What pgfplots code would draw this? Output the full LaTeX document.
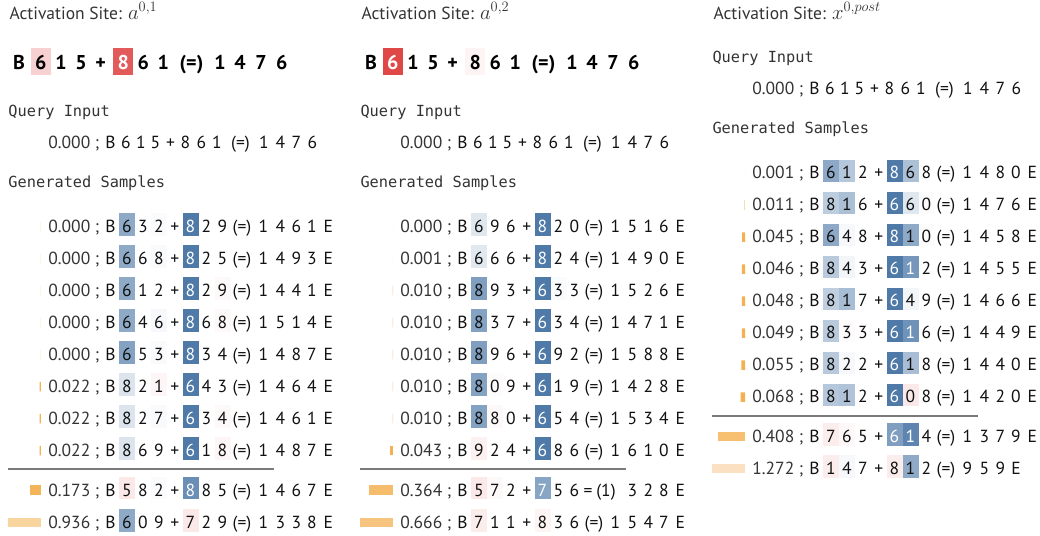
\documentclass[border=0pt]{standalone}
\usepackage{pgfplots}
\usepackage{pgfplotstable}
\pgfplotsset{compat=1.18}
\usepackage{fontspec}
\setmainfont{PT Sans}
\newfontfamily\monof{DejaVu Sans Mono}
\definecolor{txt}{HTML}{333333}
\definecolor{tok}{HTML}{111111}
\definecolor{sepc}{HTML}{7A7A7A}
\definecolor{barO}{HTML}{F5B04F}
\definecolor{barA}{HTML}{F4B458}
\definecolor{barB}{HTML}{F5BD6B}
\definecolor{barC}{HTML}{F6C070}
\definecolor{barD}{HTML}{F6C47F}
\definecolor{barE}{HTML}{F8D49E}
\definecolor{barF}{HTML}{FBE0C1}
\definecolor{barP}{HTML}{F9E3C0}
\definecolor{barQ}{HTML}{F8DCB2}
\definecolor{barZ}{HTML}{FDF3E6}

\pgfdeclareplotmark{cell}{\pgfpathrectangle{\pgfqpoint{-8pt}{-11.35pt}}{\pgfqpoint{16pt}{22.7pt}}\pgfusepathqfill}
\pgfdeclareplotmark{bigcell}{\pgfpathrectangle{\pgfqpoint{-10pt}{-13.65pt}}{\pgfqpoint{20pt}{27.3pt}}\pgfusepathqfill}

\newcommand\tokfont{\fontsize{17.5}{20}\selectfont}
\newcommand\bigfont{\bfseries\fontsize{20}{24}\selectfont}
\newcommand\monofont{\monof\fontsize{15.3}{18}\selectfont}
\newcommand\W[1]{\textcolor{white}{#1}}
\def\slots{{110.5,127,143,159,174.8,190.5,206.5,222.5,242,263.5,280.3,296.3,312,328.3}}
\def\qslots{{110.5,125.8,140.8,155.5,170.5,185.5,201.5,217,240.5,264,280.5,296.5,312.5}}
\def\bigslots{{19,40.7,61,81,100.7,123.3,143.3,163.3,191.5,220,240,261,281.7}}

\newcommand\srow[4]{%
  \node[anchor=base east, text=txt, font=\tokfont, inner sep=0pt] at ({#1+90.5},{#2+6}) {#3};
  \node[anchor=base, text=txt, font=\tokfont, inner sep=0pt] at ({#1+97},{#2+6}) {;};
  \foreach \tk [count=\i from 0] in {#4} {
    \pgfmathsetmacro\xx{#1+\slots[\i]}
    \node[anchor=base, text=tok, font=\tokfont, inner sep=0pt] at (\xx,{#2+6}) {\tk};
  }
}
\newcommand\qrow[2]{%
  \node[anchor=base east, text=txt, font=\tokfont, inner sep=0pt] at ({#1+90.5},{#2+6}) {0.000};
  \node[anchor=base, text=txt, font=\tokfont, inner sep=0pt] at ({#1+97},{#2+6}) {;};
  \foreach \tk [count=\i from 0] in {B,6,1,5,+,8,6,1,(=),1,4,7,6} {
    \pgfmathsetmacro\xx{#1+\qslots[\i]}
    \node[anchor=base, text=tok, font=\tokfont, inner sep=0pt] at (\xx,{#2+6}) {\tk};
  }
}
\newcommand\bigline[2]{%
  \foreach \tk [count=\i from 0] in {#2} {
    \pgfmathsetmacro\xx{#1+\bigslots[\i]}
    \node[anchor=base, text=black, font=\bigfont, inner sep=0pt] at (\xx,70) {\tk};
  }
}
\newcommand\header[3]{%
  \node[anchor=base west, text=txt, font=\tokfont, inner sep=0pt] at ({#1+9.3},19.5) {Activation Site: {\fontsize{20.5}{24}\selectfont$#3$}};
  \node[anchor=base west, text=txt, font=\monofont, inner sep=0pt] at ({#1+8.3},{116.5-#2}) {Query Input};
  \qrow{#1}{142.5-#2}
  \node[anchor=base west, text=txt, font=\monofont, inner sep=0pt] at ({#1+8.3},{187.5-#2}) {Generated Samples};
}

% attribution cells: x (slot centre, panel-local), y (row centre, panel 1 rows), v (signed attribution)
\pgfplotstableread{
x y v
127 226.7 0.64
159 226.7 0.03
190.5 226.7 1.0
127 258.7 0.64
159 258.7 0.04
190.5 258.7 1.0
127 290.7 0.64
190.5 290.7 1.0
222.5 290.7 -0.03
127 322.7 0.64
159 322.7 0.05
190.5 322.7 1.0
222.5 322.7 -0.03
127 354.7 0.70
159 354.7 0.04
190.5 354.7 1.0
127 386.7 0.20
159 386.7 -0.05
190.5 386.7 1.0
127 418.7 0.20
159 418.7 0.04
190.5 418.7 1.0
222.5 418.7 -0.03
127 450.7 0.20
190.5 450.7 1.0
222.5 450.7 -0.05
127 490 -0.12
159 490 0.03
190.5 490 0.85
127 522.3 0.64
190.5 522.3 -0.12
}\cellsA
\pgfplotstableread{
x y v
127 226.7 0.18
190.5 226.7 1.0
127 258.7 0.17
190.5 258.7 1.0
127 290.7 0.72
190.5 290.7 1.0
206.5 290.7 0.03
127 322.7 0.70
190.5 322.7 1.0
127 354.7 0.72
190.5 354.7 1.0
127 386.7 0.70
143 386.7 -0.02
190.5 386.7 1.0
127 418.7 0.70
143 418.7 -0.03
190.5 418.7 1.0
127 450.7 -0.08
190.5 450.7 1.0
127 490 -0.12
143 490 -0.03
190.5 490 0.68
127 522.3 -0.10
190.5 522.3 -0.06
}\cellsB
\pgfplotstableread{
x y v
127 226.7 0.65
143 226.7 0.42
190.5 226.7 1.0
206.5 226.7 0.47
127 258.7 0.38
143 258.7 0.48
190.5 258.7 1.0
206.5 258.7 0.18
222.5 258.7 0.02
127 290.7 0.65
143 290.7 0.05
190.5 290.7 1.0
206.5 290.7 0.64
222.5 290.7 0.02
127 322.7 0.40
143 322.7 0.07
190.5 322.7 1.0
206.5 322.7 0.78
127 354.7 0.36
143 354.7 0.50
190.5 354.7 1.0
206.5 354.7 0.07
127 386.7 0.40
143 386.7 -0.02
190.5 386.7 1.0
206.5 386.7 0.82
127 418.7 0.41
143 418.7 0.05
190.5 418.7 1.0
206.5 418.7 0.49
127 450.7 0.42
143 450.7 0.45
190.5 450.7 1.0
206.5 450.7 -0.12
127 490 -0.10
143 490 -0.04
190.5 490 0.73
206.5 490 0.92
127 522.3 -0.10
143 522.3 0.05
190.5 522.3 -0.10
206.5 522.3 0.64
}\cellsC
\pgfplotstableread{
x y v
40.7 61.3 -0.25
123.3 61.3 -0.90
392.7 61.3 -1.0
475.3 61.3 -0.06
}\bigcells

\pgfplotsset{
  cellplot/.style={scatter, only marks, point meta=explicit,
    scatter/use mapped color={draw=none, fill=mapped color}},
  ob/.style={xbar, bar width=9.5pt, draw=none, fill=#1},
  baraxis/.style={anchor=south west, x=66pt, y=1pt, xmin=0, xmax=0.5,
    ymin=0, ymax=535, y dir=reverse, x dir=reverse, hide axis, enlargelimits=false},
}

\begin{document}
\begin{tikzpicture}
\begin{axis}[at={(0pt,0pt)}, anchor=south west, x=1pt, y=1pt,
  xmin=0, xmax=1040, ymin=0, ymax=535, y dir=reverse, hide axis,
  clip=false, enlargelimits=false,
  colormap={attr}{rgb255=(224,72,72) rgb255=(255,255,255) rgb255=(79,122,168)},
  point meta min=-1, point meta max=1]
\addplot[cellplot, mark=cell] table[x expr=\thisrow{x}, y expr=\thisrow{y}-2, meta=v] {\cellsA};
\addplot[cellplot, mark=cell] table[x expr=\thisrow{x}+352, y expr=\thisrow{y}-2, meta=v] {\cellsB};
\addplot[cellplot, mark=cell] table[x expr=\thisrow{x}+704, y expr=\thisrow{y}-55.7, meta=v] {\cellsC};
\addplot[cellplot, mark=bigcell] table[x=x, y=y, meta=v] {\bigcells};
\addplot[draw=sepc, line width=2pt] coordinates {(8.3,469.3) (274,469.3)};
\addplot[draw=sepc, line width=2pt] coordinates {(360.3,469.3) (626,469.3)};
\addplot[draw=sepc, line width=2pt] coordinates {(712.3,415.6) (978,415.6)};
\end{axis}

% orange bars (capped at 0.5 by the clip of each small axis)
\begin{axis}[baraxis, at={(8pt,0pt)}]
\addplot[ob=barO] coordinates {(0,226.7) (0,258.7) (0,290.7) (0,322.7) (0,354.7)};
\addplot[ob=barO] coordinates {(0.022,386.7) (0.022,418.7) (0.022,450.7)};
\addplot[ob=barA] coordinates {(0.173,490)};
\addplot[ob=barE] coordinates {(0.936,522.3)};
\end{axis}
\begin{axis}[baraxis, at={(360pt,0pt)}]
\addplot[ob=barZ] coordinates {(0,226.7) (0.001,258.7)};
\addplot[ob=barP] coordinates {(0.010,290.7) (0.010,322.7) (0.010,354.7) (0.010,386.7) (0.010,418.7)};
\addplot[ob=barO] coordinates {(0.043,450.7)};
\addplot[ob=barB] coordinates {(0.364,490)};
\addplot[ob=barD] coordinates {(0.666,522.3)};
\end{axis}
\begin{axis}[baraxis, at={(712pt,0pt)}]
\addplot[ob=barZ] coordinates {(0.001,173)};
\addplot[ob=barQ] coordinates {(0.011,205)};
\addplot[ob=barO] coordinates {(0.045,237) (0.046,269) (0.048,301) (0.049,333) (0.055,365) (0.068,397)};
\addplot[ob=barC] coordinates {(0.408,436.3)};
\addplot[ob=barF] coordinates {(1.272,468.6)};
\end{axis}

\begin{scope}[x=1pt, y=-1pt, shift={(0pt,535pt)}]
\header{0}{0}{a^{0,1}}
\header{352}{0}{a^{0,2}}
\header{704}{53.7}{x^{0,post}}
\bigline{0}{B,6,1,5,+,\W{8},6,1,(=),1,4,7,6}
\bigline{352}{B,\W{6},1,5,+,8,6,1,(=),1,4,7,6}

\srow{0}{226.7}{0.000}{B,6,3,2,+,\W{8},2,9,(=),1,4,6,1,E}
\srow{0}{258.7}{0.000}{B,6,6,8,+,\W{8},2,5,(=),1,4,9,3,E}
\srow{0}{290.7}{0.000}{B,6,1,2,+,\W{8},2,9,(=),1,4,4,1,E}
\srow{0}{322.7}{0.000}{B,6,4,6,+,\W{8},6,8,(=),1,5,1,4,E}
\srow{0}{354.7}{0.000}{B,6,5,3,+,\W{8},3,4,(=),1,4,8,7,E}
\srow{0}{386.7}{0.022}{B,8,2,1,+,\W{6},4,3,(=),1,4,6,4,E}
\srow{0}{418.7}{0.022}{B,8,2,7,+,\W{6},3,4,(=),1,4,6,1,E}
\srow{0}{450.7}{0.022}{B,8,6,9,+,\W{6},1,8,(=),1,4,8,7,E}
\srow{0}{490}{0.173}{B,5,8,2,+,\W{8},8,5,(=),1,4,6,7,E}
\srow{0}{522.3}{0.936}{B,6,0,9,+,7,2,9,(=),1,3,3,8,E}

\srow{352}{226.7}{0.000}{B,6,9,6,+,\W{8},2,0,(=),1,5,1,6,E}
\srow{352}{258.7}{0.001}{B,6,6,6,+,\W{8},2,4,(=),1,4,9,0,E}
\srow{352}{290.7}{0.010}{B,8,9,3,+,\W{6},3,3,(=),1,5,2,6,E}
\srow{352}{322.7}{0.010}{B,8,3,7,+,\W{6},3,4,(=),1,4,7,1,E}
\srow{352}{354.7}{0.010}{B,8,9,6,+,\W{6},9,2,(=),1,5,8,8,E}
\srow{352}{386.7}{0.010}{B,8,0,9,+,\W{6},1,9,(=),1,4,2,8,E}
\srow{352}{418.7}{0.010}{B,8,8,0,+,\W{6},5,4,(=),1,5,3,4,E}
\srow{352}{450.7}{0.043}{B,9,2,4,+,\W{6},8,6,(=),1,6,1,0,E}
\srow{352}{490}{0.364}{B,5,7,2,+,\W{7},5,6,{},{},3,2,8,E}
\node[anchor=base, text=tok, font=\tokfont, inner sep=0pt] at (588,496) {=};
\node[anchor=base, text=tok, font=\tokfont, inner sep=0pt] at (606,496) {(1)};
\srow{352}{522.3}{0.666}{B,7,1,1,+,8,3,6,(=),1,5,4,7,E}

\srow{704}{173}{0.001}{B,6,1,2,+,\W{8},6,8,(=),1,4,8,0,E}
\srow{704}{205}{0.011}{B,8,1,6,+,\W{6},6,0,(=),1,4,7,6,E}
\srow{704}{237}{0.045}{B,6,4,8,+,\W{8},1,0,(=),1,4,5,8,E}
\srow{704}{269}{0.046}{B,8,4,3,+,\W{6},\W{1},2,(=),1,4,5,5,E}
\srow{704}{301}{0.048}{B,8,1,7,+,\W{6},4,9,(=),1,4,6,6,E}
\srow{704}{333}{0.049}{B,8,3,3,+,\W{6},\W{1},6,(=),1,4,4,9,E}
\srow{704}{365}{0.055}{B,8,2,2,+,\W{6},1,8,(=),1,4,4,0,E}
\srow{704}{397}{0.068}{B,8,1,2,+,\W{6},0,8,(=),1,4,2,0,E}
\srow{704}{436.3}{0.408}{B,7,6,5,+,\W{6},\W{1},4,(=),1,3,7,9,E}
\srow{704}{468.6}{1.272}{B,1,4,7,+,8,1,2,(=),9,5,9,E,{}}
\end{scope}
\pgfresetboundingbox
\useasboundingbox (0pt,0pt) rectangle (1040pt,535pt);
\end{tikzpicture}
\end{document}
